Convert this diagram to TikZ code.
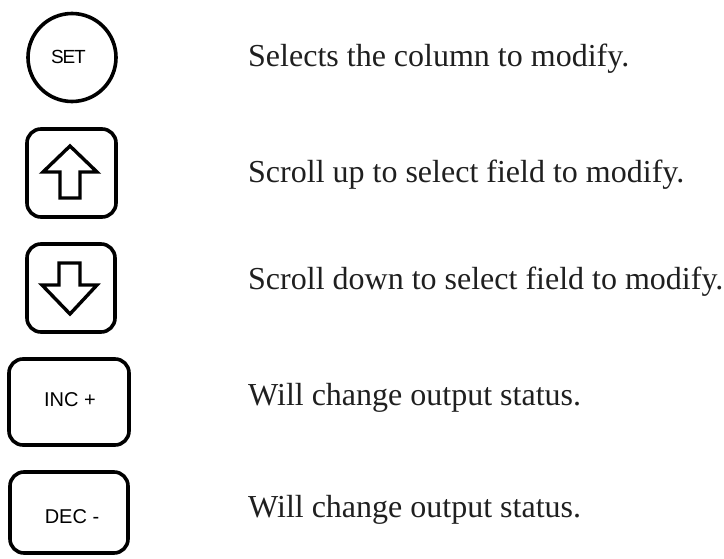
\documentclass[tikz,border=0pt]{standalone}
\usepackage{fontspec}
\setmainfont{Liberation Serif}
\setsansfont{Liberation Sans}
\begin{document}
\begin{tikzpicture}[x=1pt,y=-1pt,
  keybox/.style={draw, line width=3.6pt, rounded corners=14pt, inner sep=0pt},
  keycirc/.style={draw, circle, line width=3.6pt, inner sep=0pt, minimum size=88pt},
  keylabel/.style={font=\sffamily\fontsize{20}{22}\selectfont},
  desc/.style={anchor=base west, inner sep=0pt, font=\fontsize{32}{36}\selectfont, text=black!88},
  arrowshape/.style={line width=3.4pt, line join=miter}]
\useasboundingbox (0,0) rectangle (724,559);
% keys
\node[keycirc] (set) at (72,57.5) {};
\node[keylabel, font=\sffamily\fontsize{19}{22}\selectfont\addfontfeature{LetterSpace=-6}] (setlabel) at (68.5,57) {SET};
\node[keybox, minimum width=89pt, minimum height=88pt] (up) at (71.5,173) {};
\node[keybox, minimum width=88pt, minimum height=88pt] (down) at (71,288) {};
\node[keybox, minimum width=120pt, minimum height=86pt] (inc) at (69,402) {};
\node[keylabel] (inclabel) at (70,400) {INC +};
\node[keybox, minimum width=118pt, minimum height=81pt] (dec) at (69,512.5) {};
\node[keylabel] (declabel) at (72,517) {DEC -};
% arrows
\draw[arrowshape] (70,146) -- (97,172) -- (80,172) -- (80,198) -- (60,198) -- (60,172) -- (43,172) -- cycle;
\draw[arrowshape] (70,314) -- (97,285) -- (80,285) -- (80,263) -- (59,263) -- (59,285) -- (42,285) -- cycle;
% descriptions
\node[desc] (d1) at (248,67) {Selects the column to modify.};
\node[desc] (d2) at (248,183) {Scroll up to select field to modify.};
\node[desc] (d3) at (248,290) {Scroll down to select field to modify.};
\node[desc] (d4) at (248,405) {Will change output status.};
\node[desc] (d5) at (248,517) {Will change output status.};
\end{tikzpicture}
\end{document}
